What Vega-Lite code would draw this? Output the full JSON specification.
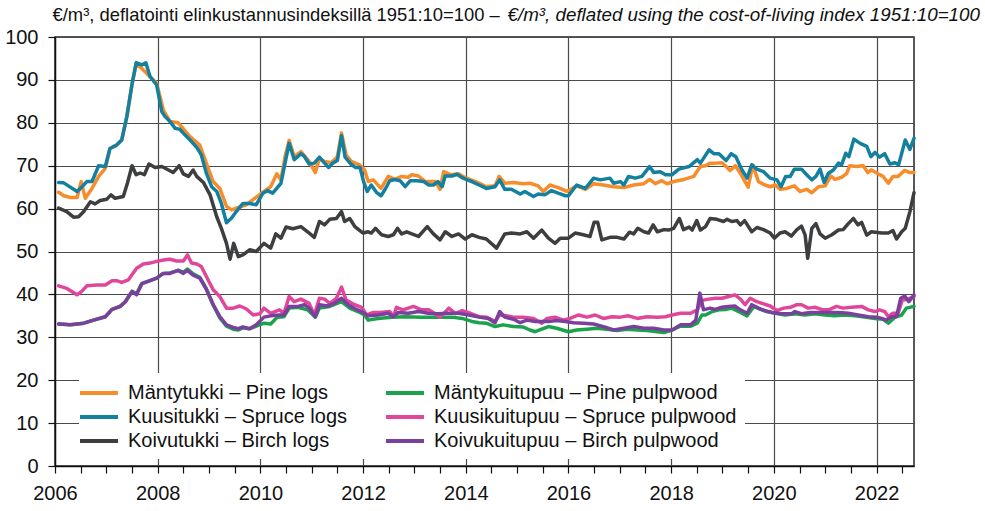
{
"$schema": "https://vega.github.io/schema/vega-lite/v6.json",
"width": 859,
"height": 429,
"autosize": {"type": "none"},
"padding": {"left": 55, "top": 37, "right": 71, "bottom": 45},
"background": "white",
"config": {
  "font": "Liberation Sans, Arial, sans-serif",
  "view": {"stroke": "#222", "strokeWidth": 1.5}
},
"data": {"values": [
{"k":"A","t":2006.07,"v":63.8},{"k":"A","t":2006.17,"v":63.0},{"k":"A","t":2006.30,"v":62.6},{"k":"A","t":2006.43,"v":62.6},{"k":"A","t":2006.51,"v":66.3},{"k":"A","t":2006.59,"v":62.4},{"k":"A","t":2006.72,"v":64.7},{"k":"A","t":2006.85,"v":67.5},{"k":"A","t":2006.98,"v":69.4},{"k":"A","t":2007.07,"v":74.0},{"k":"A","t":2007.20,"v":74.8},{"k":"A","t":2007.30,"v":76.0},{"k":"A","t":2007.40,"v":81.5},{"k":"A","t":2007.50,"v":89.0},{"k":"A","t":2007.58,"v":93.5},{"k":"A","t":2007.66,"v":93.0},{"k":"A","t":2007.79,"v":91.5},{"k":"A","t":2007.98,"v":89.2},{"k":"A","t":2008.11,"v":83.0},{"k":"A","t":2008.24,"v":80.3},{"k":"A","t":2008.40,"v":80.0},{"k":"A","t":2008.63,"v":76.8},{"k":"A","t":2008.82,"v":74.8},{"k":"A","t":2008.95,"v":70.5},{"k":"A","t":2009.08,"v":66.3},{"k":"A","t":2009.21,"v":64.7},{"k":"A","t":2009.34,"v":60.5},{"k":"A","t":2009.44,"v":59.7},{"k":"A","t":2009.53,"v":60.1},{"k":"A","t":2009.73,"v":60.9},{"k":"A","t":2009.89,"v":62.4},{"k":"A","t":2010.07,"v":64.0},{"k":"A","t":2010.20,"v":65.1},{"k":"A","t":2010.32,"v":68.1},{"k":"A","t":2010.40,"v":66.7},{"k":"A","t":2010.48,"v":72.1},{"k":"A","t":2010.56,"v":75.9},{"k":"A","t":2010.66,"v":72.1},{"k":"A","t":2010.79,"v":73.3},{"k":"A","t":2010.95,"v":71.0},{"k":"A","t":2011.07,"v":68.4},{"k":"A","t":2011.15,"v":71.7},{"k":"A","t":2011.25,"v":71.0},{"k":"A","t":2011.38,"v":70.7},{"k":"A","t":2011.50,"v":72.1},{"k":"A","t":2011.58,"v":77.6},{"k":"A","t":2011.67,"v":72.5},{"k":"A","t":2011.77,"v":71.0},{"k":"A","t":2011.93,"v":70.2},{"k":"A","t":2012.03,"v":69.0},{"k":"A","t":2012.10,"v":66.3},{"k":"A","t":2012.20,"v":66.7},{"k":"A","t":2012.35,"v":64.7},{"k":"A","t":2012.49,"v":67.5},{"k":"A","t":2012.62,"v":66.8},{"k":"A","t":2012.75,"v":67.5},{"k":"A","t":2012.88,"v":67.3},{"k":"A","t":2012.95,"v":67.9},{"k":"A","t":2013.08,"v":67.6},{"k":"A","t":2013.21,"v":66.3},{"k":"A","t":2013.41,"v":66.3},{"k":"A","t":2013.50,"v":64.5},{"k":"A","t":2013.57,"v":68.6},{"k":"A","t":2013.70,"v":67.9},{"k":"A","t":2013.86,"v":68.1},{"k":"A","t":2013.99,"v":67.2},{"k":"A","t":2014.19,"v":66.3},{"k":"A","t":2014.27,"v":65.9},{"k":"A","t":2014.40,"v":65.1},{"k":"A","t":2014.57,"v":65.3},{"k":"A","t":2014.65,"v":67.5},{"k":"A","t":2014.76,"v":65.9},{"k":"A","t":2014.93,"v":66.1},{"k":"A","t":2015.12,"v":65.8},{"k":"A","t":2015.25,"v":65.9},{"k":"A","t":2015.41,"v":65.3},{"k":"A","t":2015.51,"v":64.0},{"k":"A","t":2015.64,"v":65.5},{"k":"A","t":2015.80,"v":64.9},{"k":"A","t":2015.97,"v":64.0},{"k":"A","t":2016.16,"v":65.3},{"k":"A","t":2016.33,"v":64.5},{"k":"A","t":2016.49,"v":65.8},{"k":"A","t":2016.68,"v":65.5},{"k":"A","t":2016.88,"v":65.1},{"k":"A","t":2017.08,"v":64.9},{"k":"A","t":2017.27,"v":65.5},{"k":"A","t":2017.47,"v":65.8},{"k":"A","t":2017.58,"v":66.8},{"k":"A","t":2017.69,"v":65.8},{"k":"A","t":2017.82,"v":66.5},{"k":"A","t":2017.92,"v":65.8},{"k":"A","t":2018.05,"v":66.3},{"k":"A","t":2018.25,"v":66.8},{"k":"A","t":2018.44,"v":67.5},{"k":"A","t":2018.50,"v":68.6},{"k":"A","t":2018.57,"v":69.8},{"k":"A","t":2018.67,"v":70.0},{"k":"A","t":2018.76,"v":70.6},{"k":"A","t":2018.86,"v":70.6},{"k":"A","t":2018.99,"v":70.7},{"k":"A","t":2019.09,"v":69.6},{"k":"A","t":2019.15,"v":68.9},{"k":"A","t":2019.25,"v":70.0},{"k":"A","t":2019.35,"v":68.2},{"k":"A","t":2019.44,"v":66.3},{"k":"A","t":2019.50,"v":65.0},{"k":"A","t":2019.59,"v":70.2},{"k":"A","t":2019.70,"v":66.3},{"k":"A","t":2019.83,"v":65.5},{"k":"A","t":2019.93,"v":65.1},{"k":"A","t":2020.03,"v":65.5},{"k":"A","t":2020.12,"v":64.5},{"k":"A","t":2020.25,"v":64.7},{"k":"A","t":2020.40,"v":65.3},{"k":"A","t":2020.51,"v":64.0},{"k":"A","t":2020.64,"v":64.5},{"k":"A","t":2020.74,"v":63.7},{"k":"A","t":2020.87,"v":65.1},{"k":"A","t":2021.00,"v":65.3},{"k":"A","t":2021.11,"v":67.6},{"k":"A","t":2021.19,"v":66.8},{"k":"A","t":2021.32,"v":67.3},{"k":"A","t":2021.42,"v":68.2},{"k":"A","t":2021.48,"v":70.0},{"k":"A","t":2021.61,"v":69.8},{"k":"A","t":2021.74,"v":70.0},{"k":"A","t":2021.83,"v":68.4},{"k":"A","t":2021.90,"v":69.0},{"k":"A","t":2022.03,"v":68.1},{"k":"A","t":2022.13,"v":67.5},{"k":"A","t":2022.23,"v":65.9},{"k":"A","t":2022.32,"v":67.5},{"k":"A","t":2022.42,"v":67.5},{"k":"A","t":2022.55,"v":68.9},{"k":"A","t":2022.65,"v":68.4},{"k":"A","t":2022.73,"v":68.4},
{"k":"B","t":2006.07,"v":66.1},{"k":"B","t":2006.17,"v":66.0},{"k":"B","t":2006.43,"v":64.0},{"k":"B","t":2006.52,"v":65.0},{"k":"B","t":2006.62,"v":66.3},{"k":"B","t":2006.72,"v":66.3},{"k":"B","t":2006.85,"v":70.0},{"k":"B","t":2006.98,"v":69.8},{"k":"B","t":2007.07,"v":74.0},{"k":"B","t":2007.20,"v":74.8},{"k":"B","t":2007.30,"v":76.0},{"k":"B","t":2007.40,"v":81.5},{"k":"B","t":2007.50,"v":89.0},{"k":"B","t":2007.58,"v":94.0},{"k":"B","t":2007.69,"v":93.5},{"k":"B","t":2007.77,"v":94.0},{"k":"B","t":2007.85,"v":90.8},{"k":"B","t":2007.98,"v":88.8},{"k":"B","t":2008.08,"v":82.6},{"k":"B","t":2008.14,"v":81.5},{"k":"B","t":2008.24,"v":80.3},{"k":"B","t":2008.34,"v":78.7},{"k":"B","t":2008.43,"v":78.5},{"k":"B","t":2008.53,"v":77.2},{"k":"B","t":2008.63,"v":76.0},{"k":"B","t":2008.76,"v":74.3},{"k":"B","t":2008.85,"v":72.5},{"k":"B","t":2008.95,"v":68.2},{"k":"B","t":2009.05,"v":65.1},{"k":"B","t":2009.15,"v":64.0},{"k":"B","t":2009.24,"v":61.2},{"k":"B","t":2009.34,"v":56.7},{"k":"B","t":2009.44,"v":57.8},{"k":"B","t":2009.53,"v":59.3},{"k":"B","t":2009.66,"v":61.2},{"k":"B","t":2009.79,"v":61.2},{"k":"B","t":2009.92,"v":60.9},{"k":"B","t":2010.05,"v":63.6},{"k":"B","t":2010.14,"v":64.2},{"k":"B","t":2010.24,"v":63.6},{"k":"B","t":2010.40,"v":65.9},{"k":"B","t":2010.48,"v":70.6},{"k":"B","t":2010.56,"v":75.2},{"k":"B","t":2010.66,"v":71.4},{"k":"B","t":2010.79,"v":72.8},{"k":"B","t":2010.86,"v":72.1},{"k":"B","t":2010.95,"v":70.4},{"k":"B","t":2011.05,"v":70.6},{"k":"B","t":2011.15,"v":72.0},{"k":"B","t":2011.25,"v":70.6},{"k":"B","t":2011.33,"v":69.6},{"k":"B","t":2011.41,"v":70.6},{"k":"B","t":2011.50,"v":71.2},{"k":"B","t":2011.58,"v":77.0},{"k":"B","t":2011.65,"v":72.0},{"k":"B","t":2011.76,"v":70.4},{"k":"B","t":2011.85,"v":69.6},{"k":"B","t":2011.94,"v":69.6},{"k":"B","t":2012.01,"v":66.3},{"k":"B","t":2012.08,"v":64.0},{"k":"B","t":2012.16,"v":65.5},{"k":"B","t":2012.26,"v":63.8},{"k":"B","t":2012.35,"v":63.0},{"k":"B","t":2012.43,"v":64.5},{"k":"B","t":2012.52,"v":66.5},{"k":"B","t":2012.62,"v":66.8},{"k":"B","t":2012.72,"v":66.5},{"k":"B","t":2012.82,"v":65.1},{"k":"B","t":2012.92,"v":66.5},{"k":"B","t":2013.05,"v":66.5},{"k":"B","t":2013.18,"v":66.3},{"k":"B","t":2013.28,"v":65.5},{"k":"B","t":2013.37,"v":65.5},{"k":"B","t":2013.46,"v":66.3},{"k":"B","t":2013.54,"v":65.1},{"k":"B","t":2013.60,"v":67.6},{"k":"B","t":2013.73,"v":67.6},{"k":"B","t":2013.83,"v":68.0},{"k":"B","t":2013.93,"v":67.2},{"k":"B","t":2014.03,"v":66.7},{"k":"B","t":2014.12,"v":66.3},{"k":"B","t":2014.26,"v":65.5},{"k":"B","t":2014.40,"v":64.7},{"k":"B","t":2014.57,"v":65.1},{"k":"B","t":2014.66,"v":66.7},{"k":"B","t":2014.76,"v":64.5},{"k":"B","t":2014.89,"v":64.5},{"k":"B","t":2015.06,"v":63.4},{"k":"B","t":2015.15,"v":64.0},{"k":"B","t":2015.32,"v":62.8},{"k":"B","t":2015.41,"v":63.4},{"k":"B","t":2015.54,"v":63.2},{"k":"B","t":2015.67,"v":64.2},{"k":"B","t":2015.80,"v":63.6},{"k":"B","t":2015.94,"v":63.0},{"k":"B","t":2016.00,"v":63.0},{"k":"B","t":2016.16,"v":65.5},{"k":"B","t":2016.33,"v":64.7},{"k":"B","t":2016.49,"v":67.1},{"k":"B","t":2016.62,"v":66.7},{"k":"B","t":2016.81,"v":67.1},{"k":"B","t":2016.88,"v":65.9},{"k":"B","t":2017.01,"v":66.3},{"k":"B","t":2017.08,"v":65.5},{"k":"B","t":2017.17,"v":67.5},{"k":"B","t":2017.30,"v":67.1},{"k":"B","t":2017.43,"v":67.5},{"k":"B","t":2017.58,"v":69.8},{"k":"B","t":2017.66,"v":68.4},{"k":"B","t":2017.79,"v":68.6},{"k":"B","t":2017.89,"v":67.9},{"k":"B","t":2018.02,"v":67.9},{"k":"B","t":2018.15,"v":69.2},{"k":"B","t":2018.35,"v":69.8},{"k":"B","t":2018.51,"v":71.4},{"k":"B","t":2018.57,"v":70.6},{"k":"B","t":2018.63,"v":71.7},{"k":"B","t":2018.74,"v":73.7},{"k":"B","t":2018.83,"v":72.8},{"k":"B","t":2018.93,"v":72.8},{"k":"B","t":2019.07,"v":71.2},{"k":"B","t":2019.17,"v":72.8},{"k":"B","t":2019.26,"v":72.1},{"k":"B","t":2019.38,"v":69.0},{"k":"B","t":2019.48,"v":67.1},{"k":"B","t":2019.57,"v":70.2},{"k":"B","t":2019.67,"v":69.2},{"k":"B","t":2019.80,"v":68.6},{"k":"B","t":2019.93,"v":67.1},{"k":"B","t":2020.06,"v":66.7},{"k":"B","t":2020.14,"v":65.1},{"k":"B","t":2020.23,"v":67.5},{"k":"B","t":2020.32,"v":67.5},{"k":"B","t":2020.40,"v":69.2},{"k":"B","t":2020.54,"v":69.2},{"k":"B","t":2020.64,"v":67.9},{"k":"B","t":2020.74,"v":66.7},{"k":"B","t":2020.82,"v":67.5},{"k":"B","t":2020.90,"v":69.2},{"k":"B","t":2020.98,"v":66.1},{"k":"B","t":2021.06,"v":68.2},{"k":"B","t":2021.16,"v":69.0},{"k":"B","t":2021.26,"v":70.6},{"k":"B","t":2021.32,"v":70.2},{"k":"B","t":2021.40,"v":72.9},{"k":"B","t":2021.46,"v":72.1},{"k":"B","t":2021.56,"v":76.2},{"k":"B","t":2021.68,"v":75.2},{"k":"B","t":2021.81,"v":74.5},{"k":"B","t":2021.89,"v":72.1},{"k":"B","t":2021.97,"v":73.1},{"k":"B","t":2022.06,"v":72.0},{"k":"B","t":2022.16,"v":72.8},{"k":"B","t":2022.26,"v":70.4},{"k":"B","t":2022.36,"v":70.7},{"k":"B","t":2022.43,"v":70.2},{"k":"B","t":2022.56,"v":76.0},{"k":"B","t":2022.65,"v":73.8},{"k":"B","t":2022.73,"v":76.4},
{"k":"C","t":2006.07,"v":60.1},{"k":"C","t":2006.23,"v":59.3},{"k":"C","t":2006.36,"v":58.0},{"k":"C","t":2006.46,"v":58.1},{"k":"C","t":2006.56,"v":59.3},{"k":"C","t":2006.69,"v":61.6},{"k":"C","t":2006.78,"v":61.1},{"k":"C","t":2006.88,"v":61.9},{"k":"C","t":2007.01,"v":62.2},{"k":"C","t":2007.09,"v":63.2},{"k":"C","t":2007.17,"v":62.4},{"k":"C","t":2007.33,"v":62.8},{"k":"C","t":2007.41,"v":65.9},{"k":"C","t":2007.50,"v":70.0},{"k":"C","t":2007.58,"v":67.9},{"k":"C","t":2007.66,"v":68.3},{"k":"C","t":2007.74,"v":67.9},{"k":"C","t":2007.83,"v":70.4},{"k":"C","t":2007.95,"v":69.6},{"k":"C","t":2008.08,"v":69.8},{"k":"C","t":2008.21,"v":69.0},{"k":"C","t":2008.30,"v":68.4},{"k":"C","t":2008.42,"v":70.0},{"k":"C","t":2008.50,"v":68.1},{"k":"C","t":2008.60,"v":67.5},{"k":"C","t":2008.69,"v":69.0},{"k":"C","t":2008.76,"v":67.5},{"k":"C","t":2008.89,"v":66.1},{"k":"C","t":2009.02,"v":63.2},{"k":"C","t":2009.15,"v":58.1},{"k":"C","t":2009.24,"v":55.4},{"k":"C","t":2009.34,"v":51.9},{"k":"C","t":2009.41,"v":48.2},{"k":"C","t":2009.48,"v":51.9},{"k":"C","t":2009.57,"v":48.8},{"k":"C","t":2009.66,"v":49.2},{"k":"C","t":2009.79,"v":50.4},{"k":"C","t":2009.92,"v":50.0},{"k":"C","t":2010.07,"v":51.9},{"k":"C","t":2010.20,"v":50.8},{"k":"C","t":2010.30,"v":54.1},{"k":"C","t":2010.40,"v":53.1},{"k":"C","t":2010.50,"v":55.7},{"k":"C","t":2010.63,"v":55.3},{"k":"C","t":2010.79,"v":55.8},{"k":"C","t":2010.92,"v":54.6},{"k":"C","t":2011.05,"v":53.3},{"k":"C","t":2011.15,"v":57.0},{"k":"C","t":2011.25,"v":56.2},{"k":"C","t":2011.35,"v":57.5},{"k":"C","t":2011.48,"v":57.7},{"k":"C","t":2011.58,"v":59.3},{"k":"C","t":2011.64,"v":57.0},{"k":"C","t":2011.74,"v":57.7},{"k":"C","t":2011.84,"v":55.8},{"k":"C","t":2012.00,"v":54.3},{"k":"C","t":2012.10,"v":54.6},{"k":"C","t":2012.16,"v":54.3},{"k":"C","t":2012.24,"v":55.4},{"k":"C","t":2012.36,"v":53.9},{"k":"C","t":2012.49,"v":53.5},{"k":"C","t":2012.59,"v":53.9},{"k":"C","t":2012.67,"v":55.4},{"k":"C","t":2012.75,"v":54.1},{"k":"C","t":2012.85,"v":54.6},{"k":"C","t":2012.95,"v":54.1},{"k":"C","t":2013.08,"v":53.5},{"k":"C","t":2013.25,"v":55.8},{"k":"C","t":2013.37,"v":54.1},{"k":"C","t":2013.50,"v":52.7},{"k":"C","t":2013.60,"v":54.6},{"k":"C","t":2013.73,"v":53.5},{"k":"C","t":2013.86,"v":54.1},{"k":"C","t":2013.99,"v":52.9},{"k":"C","t":2014.12,"v":53.9},{"k":"C","t":2014.26,"v":53.3},{"k":"C","t":2014.40,"v":52.9},{"k":"C","t":2014.60,"v":50.8},{"k":"C","t":2014.76,"v":54.1},{"k":"C","t":2014.89,"v":54.3},{"k":"C","t":2015.06,"v":54.1},{"k":"C","t":2015.19,"v":54.6},{"k":"C","t":2015.32,"v":53.1},{"k":"C","t":2015.48,"v":55.0},{"k":"C","t":2015.61,"v":53.1},{"k":"C","t":2015.74,"v":51.9},{"k":"C","t":2015.84,"v":53.1},{"k":"C","t":2016.00,"v":53.1},{"k":"C","t":2016.13,"v":54.3},{"k":"C","t":2016.29,"v":53.9},{"k":"C","t":2016.42,"v":53.5},{"k":"C","t":2016.50,"v":56.8},{"k":"C","t":2016.57,"v":56.8},{"k":"C","t":2016.65,"v":52.7},{"k":"C","t":2016.81,"v":53.3},{"k":"C","t":2016.95,"v":53.3},{"k":"C","t":2017.08,"v":52.9},{"k":"C","t":2017.19,"v":54.5},{"k":"C","t":2017.27,"v":54.1},{"k":"C","t":2017.35,"v":55.4},{"k":"C","t":2017.47,"v":54.6},{"k":"C","t":2017.56,"v":54.3},{"k":"C","t":2017.65,"v":56.2},{"k":"C","t":2017.73,"v":54.6},{"k":"C","t":2017.86,"v":55.1},{"k":"C","t":2017.95,"v":55.0},{"k":"C","t":2018.05,"v":55.4},{"k":"C","t":2018.16,"v":57.7},{"k":"C","t":2018.24,"v":55.1},{"k":"C","t":2018.35,"v":55.7},{"k":"C","t":2018.41,"v":55.0},{"k":"C","t":2018.50,"v":57.2},{"k":"C","t":2018.57,"v":55.0},{"k":"C","t":2018.67,"v":55.8},{"k":"C","t":2018.76,"v":57.7},{"k":"C","t":2018.89,"v":57.5},{"k":"C","t":2019.02,"v":57.0},{"k":"C","t":2019.09,"v":57.5},{"k":"C","t":2019.18,"v":57.0},{"k":"C","t":2019.28,"v":57.2},{"k":"C","t":2019.35,"v":56.2},{"k":"C","t":2019.43,"v":57.2},{"k":"C","t":2019.57,"v":54.6},{"k":"C","t":2019.67,"v":55.6},{"k":"C","t":2019.80,"v":55.1},{"k":"C","t":2019.93,"v":54.3},{"k":"C","t":2020.01,"v":53.1},{"k":"C","t":2020.12,"v":54.3},{"k":"C","t":2020.22,"v":54.6},{"k":"C","t":2020.34,"v":53.6},{"k":"C","t":2020.45,"v":55.1},{"k":"C","t":2020.54,"v":55.9},{"k":"C","t":2020.61,"v":53.8},{"k":"C","t":2020.66,"v":48.4},{"k":"C","t":2020.74,"v":55.4},{"k":"C","t":2020.82,"v":56.5},{"k":"C","t":2020.90,"v":54.1},{"k":"C","t":2021.00,"v":53.1},{"k":"C","t":2021.13,"v":53.9},{"k":"C","t":2021.26,"v":55.0},{"k":"C","t":2021.35,"v":55.1},{"k":"C","t":2021.45,"v":56.5},{"k":"C","t":2021.55,"v":57.7},{"k":"C","t":2021.64,"v":56.2},{"k":"C","t":2021.71,"v":56.8},{"k":"C","t":2021.81,"v":53.8},{"k":"C","t":2021.90,"v":54.6},{"k":"C","t":2022.10,"v":54.3},{"k":"C","t":2022.23,"v":54.3},{"k":"C","t":2022.32,"v":54.9},{"k":"C","t":2022.39,"v":52.9},{"k":"C","t":2022.49,"v":54.6},{"k":"C","t":2022.56,"v":55.4},{"k":"C","t":2022.65,"v":59.3},{"k":"C","t":2022.73,"v":63.7},
{"k":"D","t":2006.07,"v":33.1},{"k":"D","t":2006.30,"v":32.9},{"k":"D","t":2006.56,"v":33.3},{"k":"D","t":2006.75,"v":34.0},{"k":"D","t":2006.98,"v":34.8},{"k":"D","t":2007.11,"v":36.5},{"k":"D","t":2007.27,"v":37.2},{"k":"D","t":2007.37,"v":38.3},{"k":"D","t":2007.50,"v":40.7},{"k":"D","t":2007.59,"v":40.2},{"k":"D","t":2007.69,"v":42.5},{"k":"D","t":2007.85,"v":43.2},{"k":"D","t":2007.98,"v":43.8},{"k":"D","t":2008.11,"v":44.9},{"k":"D","t":2008.24,"v":45.0},{"k":"D","t":2008.40,"v":45.6},{"k":"D","t":2008.50,"v":45.2},{"k":"D","t":2008.58,"v":45.9},{"k":"D","t":2008.69,"v":44.8},{"k":"D","t":2008.82,"v":44.0},{"k":"D","t":2008.95,"v":41.3},{"k":"D","t":2009.08,"v":37.6},{"k":"D","t":2009.21,"v":34.5},{"k":"D","t":2009.34,"v":32.6},{"k":"D","t":2009.47,"v":31.9},{"k":"D","t":2009.57,"v":31.7},{"k":"D","t":2009.66,"v":32.2},{"k":"D","t":2009.79,"v":32.0},{"k":"D","t":2009.92,"v":32.6},{"k":"D","t":2010.07,"v":33.3},{"k":"D","t":2010.20,"v":33.1},{"k":"D","t":2010.33,"v":34.7},{"k":"D","t":2010.46,"v":34.8},{"k":"D","t":2010.56,"v":36.8},{"k":"D","t":2010.73,"v":37.0},{"k":"D","t":2010.92,"v":36.4},{"k":"D","t":2011.07,"v":34.7},{"k":"D","t":2011.15,"v":36.8},{"k":"D","t":2011.35,"v":37.2},{"k":"D","t":2011.58,"v":38.3},{"k":"D","t":2011.74,"v":36.8},{"k":"D","t":2011.90,"v":36.0},{"k":"D","t":2012.03,"v":35.2},{"k":"D","t":2012.10,"v":34.0},{"k":"D","t":2012.29,"v":34.4},{"k":"D","t":2012.56,"v":34.7},{"k":"D","t":2012.82,"v":34.8},{"k":"D","t":2013.14,"v":34.7},{"k":"D","t":2013.47,"v":34.7},{"k":"D","t":2013.73,"v":34.7},{"k":"D","t":2013.93,"v":34.4},{"k":"D","t":2014.12,"v":33.7},{"k":"D","t":2014.26,"v":33.4},{"k":"D","t":2014.40,"v":33.3},{"k":"D","t":2014.57,"v":32.5},{"k":"D","t":2014.73,"v":32.9},{"k":"D","t":2014.93,"v":32.5},{"k":"D","t":2015.12,"v":32.4},{"k":"D","t":2015.25,"v":31.7},{"k":"D","t":2015.35,"v":31.3},{"k":"D","t":2015.48,"v":31.9},{"k":"D","t":2015.61,"v":32.5},{"k":"D","t":2015.77,"v":32.1},{"k":"D","t":2016.00,"v":31.3},{"k":"D","t":2016.16,"v":31.7},{"k":"D","t":2016.36,"v":31.9},{"k":"D","t":2016.55,"v":32.1},{"k":"D","t":2016.75,"v":31.9},{"k":"D","t":2016.95,"v":31.6},{"k":"D","t":2017.14,"v":31.9},{"k":"D","t":2017.34,"v":31.7},{"k":"D","t":2017.53,"v":31.6},{"k":"D","t":2017.73,"v":31.3},{"k":"D","t":2017.86,"v":31.1},{"k":"D","t":2018.02,"v":31.7},{"k":"D","t":2018.18,"v":32.6},{"k":"D","t":2018.38,"v":32.6},{"k":"D","t":2018.51,"v":33.3},{"k":"D","t":2018.60,"v":35.2},{"k":"D","t":2018.67,"v":35.2},{"k":"D","t":2018.80,"v":36.0},{"k":"D","t":2018.93,"v":36.4},{"k":"D","t":2019.06,"v":36.5},{"k":"D","t":2019.18,"v":36.8},{"k":"D","t":2019.31,"v":36.0},{"k":"D","t":2019.48,"v":35.0},{"k":"D","t":2019.61,"v":37.2},{"k":"D","t":2019.74,"v":36.5},{"k":"D","t":2019.86,"v":36.0},{"k":"D","t":2020.03,"v":35.6},{"k":"D","t":2020.22,"v":35.2},{"k":"D","t":2020.41,"v":35.5},{"k":"D","t":2020.61,"v":35.2},{"k":"D","t":2020.80,"v":35.5},{"k":"D","t":2021.00,"v":35.2},{"k":"D","t":2021.19,"v":35.0},{"k":"D","t":2021.38,"v":35.2},{"k":"D","t":2021.58,"v":35.0},{"k":"D","t":2021.77,"v":34.7},{"k":"D","t":2021.97,"v":34.4},{"k":"D","t":2022.13,"v":34.2},{"k":"D","t":2022.23,"v":33.3},{"k":"D","t":2022.36,"v":34.7},{"k":"D","t":2022.49,"v":35.2},{"k":"D","t":2022.58,"v":36.8},{"k":"D","t":2022.73,"v":37.2},
{"k":"E","t":2006.07,"v":42.0},{"k":"E","t":2006.23,"v":41.4},{"k":"E","t":2006.43,"v":39.9},{"k":"E","t":2006.52,"v":40.7},{"k":"E","t":2006.62,"v":42.0},{"k":"E","t":2006.82,"v":42.2},{"k":"E","t":2006.98,"v":42.2},{"k":"E","t":2007.11,"v":43.2},{"k":"E","t":2007.20,"v":43.2},{"k":"E","t":2007.30,"v":42.8},{"k":"E","t":2007.43,"v":43.4},{"k":"E","t":2007.59,"v":46.1},{"k":"E","t":2007.72,"v":47.1},{"k":"E","t":2007.85,"v":47.3},{"k":"E","t":2007.98,"v":47.7},{"k":"E","t":2008.11,"v":48.0},{"k":"E","t":2008.24,"v":48.2},{"k":"E","t":2008.37,"v":47.8},{"k":"E","t":2008.50,"v":47.8},{"k":"E","t":2008.58,"v":49.2},{"k":"E","t":2008.66,"v":47.3},{"k":"E","t":2008.76,"v":47.1},{"k":"E","t":2008.85,"v":46.5},{"k":"E","t":2008.98,"v":43.4},{"k":"E","t":2009.08,"v":41.1},{"k":"E","t":2009.21,"v":39.5},{"k":"E","t":2009.34,"v":36.8},{"k":"E","t":2009.47,"v":36.8},{"k":"E","t":2009.60,"v":37.3},{"k":"E","t":2009.73,"v":36.6},{"k":"E","t":2009.86,"v":35.2},{"k":"E","t":2009.99,"v":35.5},{"k":"E","t":2010.07,"v":36.8},{"k":"E","t":2010.20,"v":35.6},{"k":"E","t":2010.37,"v":36.4},{"k":"E","t":2010.46,"v":35.6},{"k":"E","t":2010.56,"v":39.5},{"k":"E","t":2010.66,"v":38.3},{"k":"E","t":2010.79,"v":38.9},{"k":"E","t":2010.95,"v":37.9},{"k":"E","t":2011.05,"v":35.2},{"k":"E","t":2011.15,"v":39.1},{"k":"E","t":2011.25,"v":38.9},{"k":"E","t":2011.35,"v":37.9},{"k":"E","t":2011.48,"v":39.1},{"k":"E","t":2011.58,"v":41.7},{"k":"E","t":2011.67,"v":38.7},{"k":"E","t":2011.80,"v":37.8},{"k":"E","t":2011.97,"v":37.0},{"k":"E","t":2012.07,"v":35.2},{"k":"E","t":2012.20,"v":35.8},{"k":"E","t":2012.33,"v":35.8},{"k":"E","t":2012.52,"v":36.0},{"k":"E","t":2012.59,"v":34.8},{"k":"E","t":2012.65,"v":37.0},{"k":"E","t":2012.78,"v":36.4},{"k":"E","t":2012.98,"v":37.2},{"k":"E","t":2013.14,"v":36.4},{"k":"E","t":2013.28,"v":36.4},{"k":"E","t":2013.50,"v":34.7},{"k":"E","t":2013.67,"v":36.8},{"k":"E","t":2013.80,"v":35.5},{"k":"E","t":2013.93,"v":36.2},{"k":"E","t":2014.09,"v":35.6},{"k":"E","t":2014.26,"v":34.8},{"k":"E","t":2014.40,"v":34.7},{"k":"E","t":2014.57,"v":33.7},{"k":"E","t":2014.66,"v":35.2},{"k":"E","t":2014.80,"v":35.0},{"k":"E","t":2014.93,"v":34.7},{"k":"E","t":2015.12,"v":34.7},{"k":"E","t":2015.32,"v":34.4},{"k":"E","t":2015.48,"v":33.3},{"k":"E","t":2015.58,"v":34.4},{"k":"E","t":2015.74,"v":34.7},{"k":"E","t":2015.90,"v":34.0},{"k":"E","t":2016.03,"v":34.4},{"k":"E","t":2016.20,"v":35.2},{"k":"E","t":2016.36,"v":34.7},{"k":"E","t":2016.52,"v":35.2},{"k":"E","t":2016.68,"v":34.4},{"k":"E","t":2016.85,"v":34.8},{"k":"E","t":2017.01,"v":34.7},{"k":"E","t":2017.17,"v":35.0},{"k":"E","t":2017.34,"v":34.4},{"k":"E","t":2017.53,"v":34.8},{"k":"E","t":2017.73,"v":34.7},{"k":"E","t":2017.89,"v":34.8},{"k":"E","t":2018.02,"v":35.2},{"k":"E","t":2018.18,"v":35.6},{"k":"E","t":2018.38,"v":35.6},{"k":"E","t":2018.51,"v":36.4},{"k":"E","t":2018.60,"v":38.6},{"k":"E","t":2018.73,"v":38.9},{"k":"E","t":2018.86,"v":39.1},{"k":"E","t":2018.99,"v":39.1},{"k":"E","t":2019.12,"v":39.5},{"k":"E","t":2019.24,"v":39.9},{"k":"E","t":2019.35,"v":38.9},{"k":"E","t":2019.44,"v":37.6},{"k":"E","t":2019.54,"v":39.1},{"k":"E","t":2019.67,"v":38.3},{"k":"E","t":2019.80,"v":37.8},{"k":"E","t":2019.93,"v":37.3},{"k":"E","t":2020.06,"v":36.2},{"k":"E","t":2020.19,"v":36.8},{"k":"E","t":2020.32,"v":37.0},{"k":"E","t":2020.45,"v":37.6},{"k":"E","t":2020.54,"v":37.6},{"k":"E","t":2020.67,"v":36.8},{"k":"E","t":2020.80,"v":37.0},{"k":"E","t":2020.96,"v":36.4},{"k":"E","t":2021.09,"v":36.5},{"k":"E","t":2021.22,"v":37.2},{"k":"E","t":2021.35,"v":36.8},{"k":"E","t":2021.51,"v":37.0},{"k":"E","t":2021.71,"v":37.2},{"k":"E","t":2021.84,"v":36.4},{"k":"E","t":2021.97,"v":36.0},{"k":"E","t":2022.06,"v":36.4},{"k":"E","t":2022.16,"v":36.0},{"k":"E","t":2022.23,"v":34.8},{"k":"E","t":2022.32,"v":35.6},{"k":"E","t":2022.42,"v":35.6},{"k":"E","t":2022.50,"v":38.6},{"k":"E","t":2022.61,"v":38.9},{"k":"E","t":2022.73,"v":39.5},
{"k":"F","t":2006.07,"v":33.1},{"k":"F","t":2006.30,"v":32.9},{"k":"F","t":2006.56,"v":33.3},{"k":"F","t":2006.75,"v":34.0},{"k":"F","t":2006.98,"v":34.8},{"k":"F","t":2007.11,"v":36.5},{"k":"F","t":2007.27,"v":37.2},{"k":"F","t":2007.37,"v":38.3},{"k":"F","t":2007.50,"v":40.7},{"k":"F","t":2007.59,"v":39.9},{"k":"F","t":2007.69,"v":42.5},{"k":"F","t":2007.85,"v":43.2},{"k":"F","t":2007.98,"v":43.8},{"k":"F","t":2008.11,"v":44.9},{"k":"F","t":2008.24,"v":44.9},{"k":"F","t":2008.40,"v":45.6},{"k":"F","t":2008.50,"v":44.9},{"k":"F","t":2008.58,"v":45.6},{"k":"F","t":2008.69,"v":44.5},{"k":"F","t":2008.82,"v":43.8},{"k":"F","t":2008.95,"v":41.1},{"k":"F","t":2009.08,"v":37.6},{"k":"F","t":2009.21,"v":34.8},{"k":"F","t":2009.34,"v":32.9},{"k":"F","t":2009.47,"v":32.3},{"k":"F","t":2009.57,"v":32.0},{"k":"F","t":2009.66,"v":32.4},{"k":"F","t":2009.79,"v":32.0},{"k":"F","t":2009.92,"v":32.9},{"k":"F","t":2010.07,"v":34.7},{"k":"F","t":2010.20,"v":35.0},{"k":"F","t":2010.37,"v":35.2},{"k":"F","t":2010.46,"v":35.2},{"k":"F","t":2010.56,"v":37.2},{"k":"F","t":2010.73,"v":37.2},{"k":"F","t":2010.86,"v":37.6},{"k":"F","t":2010.95,"v":36.8},{"k":"F","t":2011.07,"v":34.8},{"k":"F","t":2011.15,"v":37.6},{"k":"F","t":2011.31,"v":37.3},{"k":"F","t":2011.44,"v":37.9},{"k":"F","t":2011.58,"v":39.1},{"k":"F","t":2011.71,"v":37.6},{"k":"F","t":2011.87,"v":36.5},{"k":"F","t":2011.97,"v":36.0},{"k":"F","t":2012.10,"v":35.0},{"k":"F","t":2012.29,"v":35.2},{"k":"F","t":2012.49,"v":35.6},{"k":"F","t":2012.59,"v":34.8},{"k":"F","t":2012.69,"v":35.8},{"k":"F","t":2012.88,"v":35.6},{"k":"F","t":2013.08,"v":36.0},{"k":"F","t":2013.27,"v":35.6},{"k":"F","t":2013.47,"v":35.5},{"k":"F","t":2013.63,"v":35.6},{"k":"F","t":2013.86,"v":35.6},{"k":"F","t":2014.06,"v":35.2},{"k":"F","t":2014.26,"v":34.7},{"k":"F","t":2014.44,"v":34.4},{"k":"F","t":2014.57,"v":33.4},{"k":"F","t":2014.66,"v":36.0},{"k":"F","t":2014.76,"v":34.7},{"k":"F","t":2014.93,"v":34.2},{"k":"F","t":2015.06,"v":33.4},{"k":"F","t":2015.19,"v":34.0},{"k":"F","t":2015.35,"v":33.7},{"k":"F","t":2015.51,"v":33.7},{"k":"F","t":2015.61,"v":33.7},{"k":"F","t":2015.77,"v":33.9},{"k":"F","t":2015.94,"v":33.7},{"k":"F","t":2016.10,"v":33.4},{"k":"F","t":2016.29,"v":33.3},{"k":"F","t":2016.49,"v":33.1},{"k":"F","t":2016.68,"v":32.5},{"k":"F","t":2016.88,"v":31.7},{"k":"F","t":2017.08,"v":32.1},{"k":"F","t":2017.27,"v":32.5},{"k":"F","t":2017.47,"v":32.1},{"k":"F","t":2017.66,"v":32.1},{"k":"F","t":2017.86,"v":31.7},{"k":"F","t":2018.02,"v":31.7},{"k":"F","t":2018.18,"v":32.9},{"k":"F","t":2018.38,"v":32.9},{"k":"F","t":2018.48,"v":34.0},{"k":"F","t":2018.56,"v":40.3},{"k":"F","t":2018.63,"v":36.4},{"k":"F","t":2018.76,"v":36.8},{"k":"F","t":2018.86,"v":36.5},{"k":"F","t":2018.99,"v":37.0},{"k":"F","t":2019.12,"v":37.2},{"k":"F","t":2019.24,"v":37.3},{"k":"F","t":2019.35,"v":36.4},{"k":"F","t":2019.48,"v":35.6},{"k":"F","t":2019.57,"v":37.6},{"k":"F","t":2019.70,"v":36.8},{"k":"F","t":2019.83,"v":36.2},{"k":"F","t":2019.96,"v":35.8},{"k":"F","t":2020.15,"v":35.5},{"k":"F","t":2020.35,"v":35.5},{"k":"F","t":2020.41,"v":36.0},{"k":"F","t":2020.54,"v":35.5},{"k":"F","t":2020.71,"v":35.8},{"k":"F","t":2020.87,"v":35.8},{"k":"F","t":2021.06,"v":35.8},{"k":"F","t":2021.26,"v":35.8},{"k":"F","t":2021.45,"v":35.6},{"k":"F","t":2021.64,"v":35.2},{"k":"F","t":2021.84,"v":34.8},{"k":"F","t":2022.00,"v":34.7},{"k":"F","t":2022.10,"v":34.4},{"k":"F","t":2022.19,"v":34.0},{"k":"F","t":2022.29,"v":34.8},{"k":"F","t":2022.39,"v":34.8},{"k":"F","t":2022.47,"v":39.1},{"k":"F","t":2022.55,"v":39.6},{"k":"F","t":2022.63,"v":38.3},{"k":"F","t":2022.73,"v":39.9}
]},
"mark": {"type": "line", "strokeWidth": 3.5, "strokeJoin": "round", "strokeCap": "round"},
"encoding": {
  "x": {"field": "t", "type": "quantitative",
    "scale": {"domain": [2006, 2022.73], "nice": false, "zero": false},
    "axis": {
      "values": [2006,2006.5,2007,2007.5,2008,2008.5,2009,2009.5,2010,2010.5,2011,2011.5,2012,2012.5,2013,2013.5,2014,2014.5,2015,2015.5,2016,2016.5,2017,2017.5,2018,2018.5,2019,2019.5,2020,2020.5,2021,2021.5,2022,2022.5],
      "labelExpr": "datum.value % 2 == 0 ? format(datum.value, 'd') : ''",
      "grid": true,
      "gridColor": "#4a4a4a",
      "gridWidth": 1.2,
      "gridOpacity": {"condition": {"test": "datum.value % 2 == 0 && datum.value > 2006", "value": 1}, "value": 0},
      "tickSize": 7, "tickColor": "#111", "tickWidth": 1.2,
      "domainColor": "#111", "domainWidth": 1.5,
      "labelFontSize": 20, "labelColor": "#111", "labelPadding": 10,
      "labelFlush": false, "labelOverlap": false,
      "title": "€/m³, deflated using the cost-of-living index 1951:10=100",
      "titleFontStyle": "italic", "titleFontWeight": "normal", "titleFontSize": 18.8, "titleColor": "#111",
      "titleX": 452, "titleY": -446, "titleAlign": "left", "titleAnchor": "start", "titleBaseline": "alphabetic"
    }
  },
  "y": {"field": "v", "type": "quantitative",
    "scale": {"domain": [0, 100], "nice": false},
    "axis": {
      "values": [0,10,20,30,40,50,60,70,80,90,100],
      "grid": true, "gridColor": "#4a4a4a", "gridWidth": 1.2,
      "tickSize": 7, "tickColor": "#111", "tickWidth": 1.2,
      "domainColor": "#111", "domainWidth": 1.5,
      "labelFontSize": 20, "labelColor": "#111", "labelPadding": 10,
      "labelFlush": false, "labelOverlap": false,
      "title": "€/m³, deflatointi elinkustannusindeksillä 1951:10=100 –",
      "titleAngle": 0, "titleFontWeight": "normal", "titleFontSize": 18.4, "titleColor": "#111",
      "titleX": -3, "titleY": -17, "titleAlign": "left", "titleAnchor": "start", "titleBaseline": "alphabetic"
    }
  },
  "color": {"field": "k", "type": "nominal",
    "scale": {"domain": ["A","B","C","D","E","F"], "range": ["#f78c2a","#14809f","#3c3e40","#1aa34a","#e0479a","#7b3f9e"]},
    "legend": {
      "orient": "none", "legendX": 24, "legendY": 336,
      "columns": 2, "title": null,
      "labelExpr": "{'A':'Mäntytukki – Pine logs','B':'Kuusitukki – Spruce logs','C':'Koivutukki – Birch logs','D':'Mäntykuitupuu – Pine pulpwood','E':'Kuusikuitupuu – Spruce pulpwood','F':'Koivukuitupuu – Birch pulpwood'}[datum.label]",
      "symbolType": "M-1.9,0H1.9", "symbolStrokeWidth": 4, "symbolSize": 400,
      "labelFontSize": 20, "labelColor": "#111", "labelLimit": 400, "labelOffset": 17,
      "fillColor": "white", "padding": 8, "rowPadding": 2, "columnPadding": 30
    }
  }
}
}
